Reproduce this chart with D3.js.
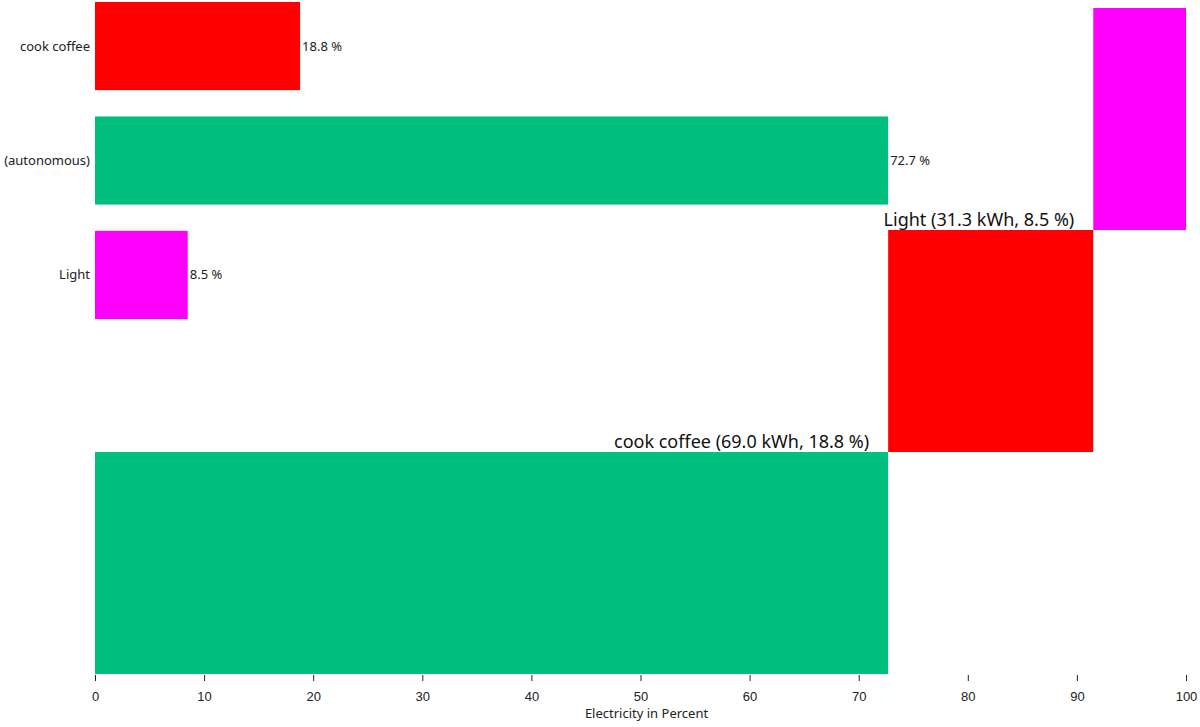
<!DOCTYPE html>
<html><head><meta charset="utf-8">
<script src="https://cdn.jsdelivr.net/npm/d3@7"></script>
<style>
body{margin:0;background:#fff;}
svg{display:block;font-family:"Noto Sans","Open Sans",sans-serif;}
</style></head>
<body><svg id="c" width="1200" height="727"></svg>
<script>
// data
const categories = ["cook coffee", "(autonomous)", "Light"];
const percents = [18.8, 72.7, 8.5];
const kwh = [69.0, 266.9, 31.3];
const colors = ["#ff0000", "#00bf7f", "#ff00ff"];
// stacking order (bottom to top) for the right-hand stacked view
const stackOrder = ["(autonomous)", "cook coffee", "Light"];
const xTicks = [0, 10, 20, 30, 40, 50, 60, 70, 80, 90, 100];
const axisTitle = "Electricity in Percent";

const svg = d3.select("#c");
const x = d3.scaleLinear().domain([0, 100]).range([95, 1186]);

// left bar chart
const y = d3.scaleBand().domain(categories).range([2, 319]).paddingInner(0.23).paddingOuter(0);
const rows = categories.map((c, i) => ({c, p: percents[i], k: kwh[i], col: colors[i]}));

svg.append("g").selectAll("rect").data(rows).join("rect")
  .attr("x", x(0)).attr("y", d => y(d.c))
  .attr("width", d => x(d.p) - x(0)).attr("height", y.bandwidth())
  .attr("fill", d => d.col);

svg.append("g").selectAll("text").data(rows).join("text")
  .attr("x", x(0) - 5).attr("y", d => y(d.c) + y.bandwidth() / 2)
  .attr("dy", "0.35em").attr("text-anchor", "end")
  .attr("font-size", 13).attr("fill", "#222")
  .text(d => d.c);

svg.append("g").selectAll("text").data(rows).join("text")
  .attr("x", d => x(d.p) + 2).attr("y", d => y(d.c) + y.bandwidth() / 2)
  .attr("dy", "0.35em").attr("font-size", 13).attr("fill", "#222")
  .text(d => d.p.toFixed(1) + " %");

// stacked view
let acc = 0;
const stacked = stackOrder.map(name => {
  const r = rows.find(d => d.c === name);
  const s = {...r, x0: acc, x1: acc + r.p};
  acc += r.p;
  return s;
});
const y2 = d3.scaleBand().domain(stackOrder.slice().reverse()).range([8, 674]).padding(0);

svg.append("g").selectAll("rect").data(stacked).join("rect")
  .attr("x", d => x(d.x0)).attr("y", d => y2(d.c))
  .attr("width", d => x(d.x1) - x(d.x0)).attr("height", y2.bandwidth())
  .attr("fill", d => d.col);

svg.append("g").selectAll("text").data(stacked.slice(1)).join("text")
  .attr("x", d => x(d.x0) - 19).attr("y", d => y2(d.c) + y2.bandwidth() - 4)
  .attr("text-anchor", "end").attr("font-size", 18).attr("fill", "#111")
  .text(d => `${d.c} (${d.k.toFixed(1)} kWh, ${d.p.toFixed(1)} %)`);

// axis
const ax = svg.append("g").attr("transform", "translate(0,675)")
  .call(d3.axisBottom(x).tickValues(xTicks).tickSize(6).tickPadding(11).tickFormat(d3.format("d")));
ax.select(".domain").remove();
ax.selectAll("text").attr("font-size", 13).attr("font-family", null).attr("fill", "#222");
ax.selectAll("line").attr("stroke", "#222");

svg.append("text").attr("x", (x(0) + x(100)) / 2 + 6).attr("y", 718)
  .attr("text-anchor", "middle").attr("font-size", 13).attr("fill", "#222")
  .text(axisTitle);
</script></body></html>
